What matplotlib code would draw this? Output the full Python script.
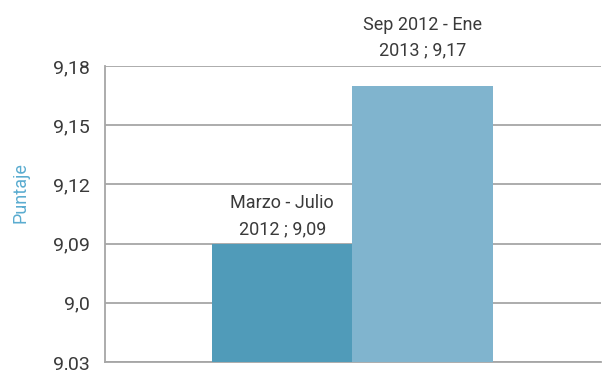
import matplotlib.pyplot as plt

# Puntaje por periodo
periodos = ["Marzo - Julio\n2012", "Sep 2012 - Ene\n2013"]
valores = [9.09, 9.17]
etiquetas_valor = ["9,09", "9,17"]
colores = ["#509bb9", "#80b4ce"]

y_ticks = [9.03, 9.06, 9.09, 9.12, 9.15, 9.18]
y_tick_labels = ["9,03", "9,0", "9,09", "9,12", "9,15", "9,18"]

plt.rcParams['font.family'] = ['Roboto', 'DejaVu Sans']

fig = plt.figure(figsize=(6.03, 3.70), dpi=100)
ax = fig.add_axes([0.174, 0.0216, 0.8226, 0.80])

base = y_ticks[0]
x = list(range(len(valores)))
bars = ax.bar(x, [v - base for v in valores], bottom=base, width=1.0,
              color=colores, zorder=3)

# value labels above each bar (the taller one sits above the frame)
offsets = [4, 19]
for xi, v, per, lab, off in zip(x, valores, periodos, etiquetas_valor, offsets):
    ax.annotate(f"{per} ; {lab}", (xi, v), xytext=(0, off),
                textcoords="offset points", ha="center", va="bottom",
                fontsize=13, color="#3a3a3a", linespacing=1.55)

ax.set_xlim(-1.264, 2.271)
ax.set_ylim(y_ticks[0], y_ticks[-1])
ax.set_yticks(y_ticks)
ax.set_yticklabels(y_tick_labels)
ax.set_xticks([])
ax.tick_params(axis="y", length=0, pad=11, labelsize=14, labelcolor="#3a3a3a")

ax.grid(axis="y", color="#a6a6a6", linewidth=1.3, zorder=0)
for side in ["top", "right"]:
    ax.spines[side].set_visible(False)
ax.spines["left"].set_color("#a6a6a6")
ax.spines["bottom"].set_color("#a6a6a6")
ax.spines["left"].set_linewidth(1.3)
ax.spines["bottom"].set_linewidth(1.3)

ax.set_ylabel("Puntaje", color="#5aacd0", fontsize=13)
ax.yaxis.set_label_coords(-0.152, 0.574)

fig.savefig("out.png", dpi=100)
